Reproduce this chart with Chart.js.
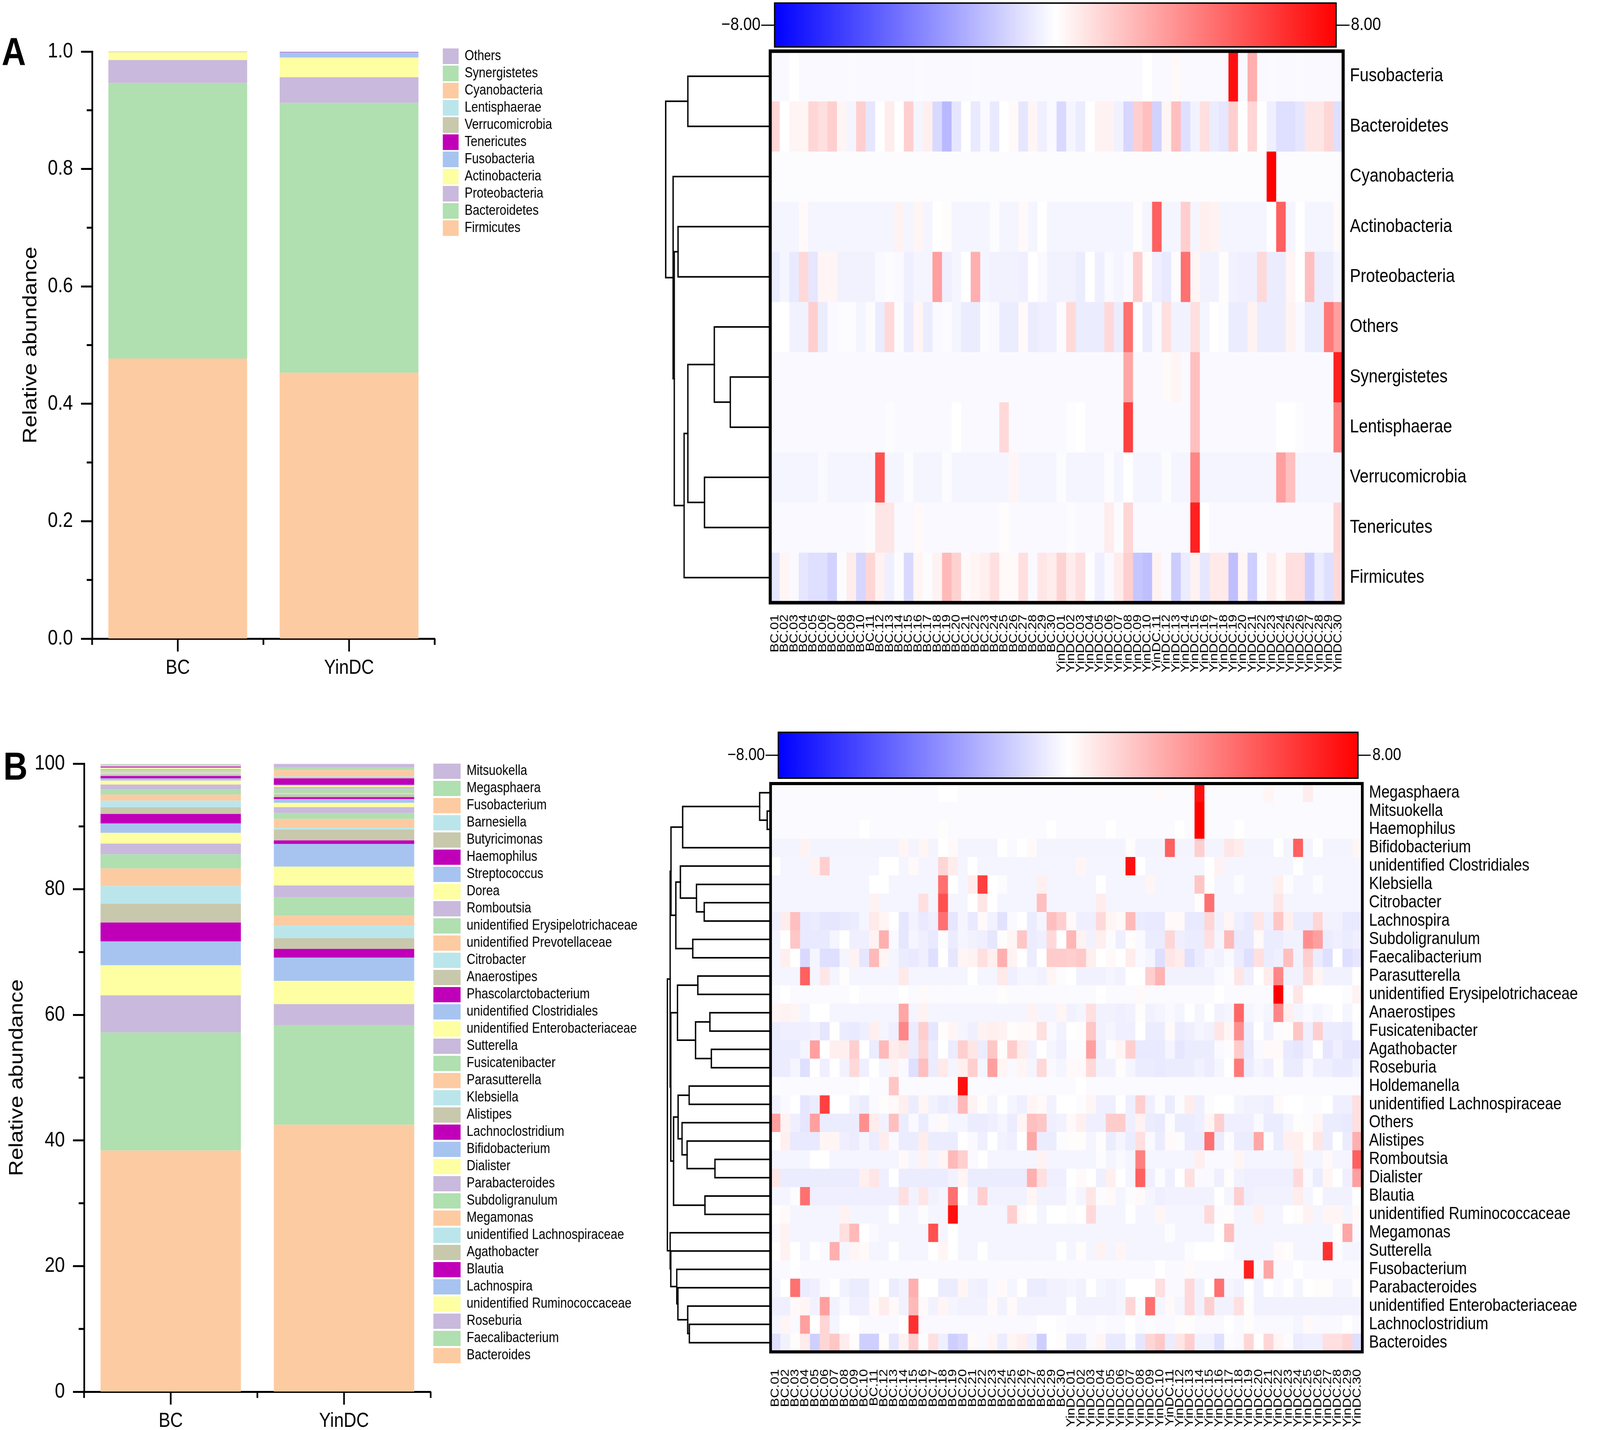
<!DOCTYPE html>
<html><head><meta charset="utf-8">
<script src="https://cdn.jsdelivr.net/npm/chart.js"></script>
<style>
html,body{margin:0;padding:0;background:#fff;overflow:hidden;}
#wrap{position:relative;overflow:hidden;width:4759px;height:3661px;background:#fff;}
#page{position:absolute;left:0;top:0;width:4759px;height:3661px;overflow:hidden;background:#fff;transform-origin:0 0;}
canvas{position:absolute;}
.letter{position:absolute;font-family:'Liberation Sans',Arial,sans-serif;font-weight:bold;font-size:100px;line-height:100px;color:#000;}
</style></head><body><div id="wrap"><div id="page">
<div class="letter" style="left:5px;top:82px">A</div>
<div class="letter" style="left:10px;top:1911px">B</div>
<canvas id="barA" width="1900" height="1800" style="left:0;top:0"></canvas>
<canvas id="barB" width="1900" height="1881" style="left:0;top:1780px"></canvas>
<canvas id="heatA" width="2559" height="1780" style="left:2200px;top:0"></canvas>
<canvas id="heatB" width="2559" height="1881" style="left:2200px;top:1780px"></canvas>
<canvas id="cbA" width="2300" height="196" style="left:2000px;top:-34px"></canvas>
<canvas id="cbB" width="2300" height="201" style="left:2000px;top:1833px"></canvas>
<canvas id="dendA" width="341" height="1432" style="left:1960px;top:121px"></canvas>
<canvas id="dendB" width="337" height="1475" style="left:1965px;top:1996px"></canvas>
</div></div>
<script>
// Fit the 4759x3661 design exactly onto the viewport the browser actually gives us
(function () {
  const sx = (window.innerWidth / 4759) || 1, sy = (window.innerHeight / 3661) || 1;
  if (Math.abs(sx - 1) > 0.001 || Math.abs(sy - 1) > 0.001) {
    const w = document.getElementById('wrap');
    w.style.width = (4759 * sx) + 'px'; w.style.height = (3661 * sy) + 'px';
    document.getElementById('page').style.transform = 'scale(' + sx + ',' + sy + ')';
  }
})();

// ===================== DATA =====================
const groups = ['BC', 'YinDC'];

// Panel A stacked bars (bottom -> top)
const phylumNames = ['Firmicutes','Bacteroidetes','Proteobacteria','Actinobacteria','Fusobacteria','Tenericutes','Verrucomicrobia','Lentisphaerae','Cyanobacteria','Synergistetes','Others'];
const phylumBC    = [0.477,0.4695,0.039,0.0135,0.0003,0.0002,0.0003,0.0001,0.0001,0.0001,0.0004];
const phylumYinDC = [0.453,0.4595,0.0438,0.0334,0.0089,0.0005,0.0002,0.0001,0.0001,0.0001,0.0008];

// Panel B stacked bars (bottom -> top)
const genusNames = ['Bacteroides','Faecalibacterium','Roseburia','unidentified Ruminococcaceae','Lachnospira','Blautia','Agathobacter','unidentified Lachnospiraceae','Megamonas','Subdoligranulum','Parabacteroides','Dialister','Bifidobacterium','Lachnoclostridium','Alistipes','Klebsiella','Parasutterella','Fusicatenibacter','Sutterella','unidentified Enterobacteriaceae','unidentified Clostridiales','Phascolarctobacterium','Anaerostipes','Citrobacter','unidentified Prevotellaceae','unidentified Erysipelotrichaceae','Romboutsia','Dorea','Streptococcus','Haemophilus','Butyricimonas','Barnesiella','Fusobacterium','Megasphaera','Mitsuokella'];
const genusBC    = [38.4,18.8,5.9,4.8,3.8,3.0,3.0,2.8,2.8,2.25,1.72,1.72,1.49,1.51,1.08,1.03,0.97,0.89,0.72,0.62,0.36,0.37,0.27,0.29,0.27,0.14,0.13,0.15,0.12,0.13,0.05,0.05,0.10,0.14,0.06];
const genusYinDC = [42.5,15.9,3.3,3.7,3.7,1.4,1.7,2.0,1.6,2.9,1.9,3.0,3.6,0.58,1.72,0.3,1.4,0.93,0.94,0.68,0.6,0.31,0.47,0.1,0.11,0.66,0.27,0.21,0.16,1.02,0.16,0.15,1.0,0.38,0.6];

// Heatmap columns
const sampleLabels = ['BC.01','BC.02','BC.03','BC.04','BC.05','BC.06','BC.07','BC.08','BC.09','BC.10','BC.11','BC.12','BC.13','BC.14','BC.15','BC.16','BC.17','BC.18','BC.19','BC.20','BC.21','BC.22','BC.23','BC.24','BC.25','BC.26','BC.27','BC.28','BC.29','BC.30',
 'YinDC.01','YinDC.02','YinDC.03','YinDC.04','YinDC.05','YinDC.06','YinDC.07','YinDC.08','YinDC.09','YinDC.10','YinDC.11','YinDC.12','YinDC.13','YinDC.14','YinDC.15','YinDC.16','YinDC.17','YinDC.18','YinDC.19','YinDC.20','YinDC.21','YinDC.22','YinDC.23','YinDC.24','YinDC.25','YinDC.26','YinDC.27','YinDC.28','YinDC.29','YinDC.30'];

// Colour-bar range and tick labels
const cbMin = -8, cbMax = 8;
const cbTickLabels = ['\u22128.00', '8.00'];

// Heatmap A rows (top -> bottom)
const heatRowsA = ['Fusobacteria','Bacteroidetes','Cyanobacteria','Actinobacteria','Proteobacteria','Others','Synergistetes','Lentisphaerae','Verrucomicrobia','Tenericutes','Firmicutes'];
const heatA = [
 [-0.2,-0.2,0,-0.2,-0.2,-0.2,-0.2,-0.2,-0.15,-0.2, -0.2,-0.2,-0.2,-0.2,-0.2,-0.15,-0.2,-0.2,-0.2,-0.2, -0.2,-0.15,-0.2,-0.2,-0.2,-0.2,-0.2,-0.2,-0.2,-0.2, -0.2,-0.2,-0.2,-0.2,-0.2,-0.2,-0.2,-0.2,-0.2,0, -0.2,-0.2,0.2,-0.2,-0.2,-0.2,-0.2,-0.2,7.5,-0.2, 2.5,-0.2,-0.15,-0.2,-0.2,-0.15,-0.2,-0.2,-0.2,-0.2],
 [1.3,0,0.3,0.3,1.3,1.0,1.5,0.3,-0.3,1.5, -0.8,0,0.6,0,1.5,-0.3,0.5,-1.2,-2.2,-0.8, 0,-0.7,-0.2,-0.7,0,0.2,-0.8,0.3,-0.5,-0.2, -1.2,-0.3,-0.6,0,0.4,0.4,-0.4,-1.3,1.5,2.0, -1.4,0.3,2.0,-1.0,-0.4,1.0,-0.6,-0.8,1.5,0, 1.3,0,-0.5,-1.0,-1.0,-0.8,0.8,0.8,1.3,-1.0],
 [-0.1,-0.1,-0.1,-0.1,-0.1,-0.1,-0.1,-0.1,-0.1,-0.1, -0.1,-0.1,-0.1,-0.1,-0.1,-0.1,-0.1,-0.1,-0.1,-0.1, -0.1,-0.1,-0.1,-0.1,-0.1,-0.1,-0.1,-0.1,-0.1,-0.1, -0.1,-0.1,-0.1,-0.1,-0.1,-0.1,-0.1,-0.1,-0.1,-0.1, -0.1,-0.1,-0.1,-0.1,-0.1,-0.1,-0.1,-0.1,-0.1,-0.1, -0.1,-0.1,8,-0.1,-0.1,-0.1,-0.1,-0.1,-0.1,-0.1],
 [-0.3,-0.3,-0.3,0.2,-0.3,-0.3,-0.3,-0.3,-0.3,-0.3, -0.3,-0.3,-0.3,0.4,-0.3,0.3,-0.3,0,0.1,-0.3, -0.3,-0.3,-0.3,-0.1,-0.3,-0.3,0.2,-0.3,0,-0.3, -0.3,-0.3,-0.3,-0.3,-0.3,-0.3,-0.3,-0.3,0.1,-0.3, 5,-0.3,-0.3,1.5,-0.3,0.5,0.4,-0.3,-0.3,-0.3, -0.3,-0.3,0,5,-0.3,0,-0.3,-0.3,-0.3,0.2],
 [-0.6,-0.3,-0.7,1.2,-0.8,0.3,0.3,-0.4,-0.4,-0.4, -0.4,-0.2,-0.1,-0.2,-0.5,-0.3,-0.3,3.0,-0.5,-0.3, 0,2.5,-0.3,-0.4,-0.4,-0.4,-0.5,0,-0.2,-0.4, -0.4,-0.4,-0.6,0,-0.5,-0.2,-0.3,-0.2,1.5,0.1, -0.5,-0.7,-0.1,4.5,0.3,-0.4,-0.4,0.1,-0.4,-0.5, -0.5,1.2,-0.6,-0.6,0.3,0,2.0,-0.6,-0.6,-0.3],
 [0,0,-0.4,-0.4,1.5,-0.6,-0.2,-0.1,-0.1,-0.3, -0.1,-0.6,1.2,-0.1,-0.6,0.3,-0.6,-0.2,-0.1,-0.3, -0.6,-0.6,-0.1,-0.2,-0.6,-0.6,0.2,-0.6,-0.5,-0.5, -0.1,1.2,-0.6,-0.6,-0.6,1.2,-0.6,4.5,0,-0.6, -0.2,1.0,-0.4,-0.4,1.0,-0.3,0,-0.1,-0.6,-0.6, 0.4,-0.6,-0.6,-0.6,0.4,-0.2,-0.6,-0.6,4.2,3.0],
 [-0.2,-0.2,-0.2,-0.2,-0.2,-0.2,-0.2,-0.2,-0.2,-0.2, -0.2,-0.2,-0.2,-0.2,-0.2,-0.2,-0.2,-0.2,-0.2,-0.2, -0.2,-0.2,-0.2,-0.2,-0.2,-0.2,-0.2,-0.2,-0.2,-0.2, -0.2,-0.2,-0.2,-0.2,-0.2,-0.2,-0.2,2.8,-0.2,-0.2, -0.2,0.15,0.3,-0.2,2.0,-0.2,-0.2,-0.2,-0.2,-0.2, -0.2,-0.2,-0.2,-0.2,-0.2,-0.2,-0.2,-0.2,-0.2,7],
 [-0.2,-0.2,-0.2,-0.2,-0.2,-0.2,-0.2,-0.2,-0.2,-0.2, -0.2,-0.2,-0.1,-0.2,-0.2,-0.2,-0.2,-0.2,-0.2,0, -0.2,-0.2,-0.2,-0.2,1.2,-0.2,-0.2,-0.2,-0.2,-0.2, -0.2,-0.05,0,-0.2,-0.2,-0.2,-0.2,6,-0.2,-0.2, -0.2,-0.2,-0.2,-0.2,2.0,-0.2,-0.2,-0.2,-0.2,-0.2, -0.2,-0.2,-0.2,0,0,-0.1,-0.2,-0.2,-0.2,4],
 [-0.3,-0.3,-0.3,-0.3,-0.3,-0.2,-0.3,-0.3,-0.3,-0.3, -0.3,5.5,-0.3,-0.3,-0.1,-0.3,-0.3,-0.3,-0.1,-0.3, -0.3,-0.3,-0.3,-0.3,-0.3,0.3,-0.3,-0.3,-0.3,-0.3, -0.1,-0.3,-0.3,-0.3,-0.3,-0.1,-0.3,0,-0.3,-0.3, -0.3,-0.1,-0.3,-0.3,3.8,-0.3,-0.3,-0.3,-0.3,-0.3, -0.3,-0.3,-0.3,3.0,2.0,-0.3,-0.3,-0.3,-0.3,-0.3],
 [-0.2,-0.2,-0.2,-0.2,-0.2,-0.2,-0.2,-0.2,-0.2,-0.2, -0.1,0.8,0.8,-0.2,-0.2,0.2,-0.2,-0.2,-0.2,-0.2, -0.2,-0.2,-0.2,-0.2,0.1,-0.2,-0.2,-0.2,-0.2,-0.2, -0.2,-0.1,-0.2,-0.2,-0.2,0.6,-0.1,1.3,-0.2,-0.2, -0.2,-0.2,-0.2,-0.2,7,0,-0.2,-0.2,-0.2,-0.2, -0.2,-0.2,-0.2,-0.2,-0.2,-0.2,-0.2,-0.2,-0.2,1.3],
 [-0.8,0.3,-0.2,-0.8,-1.0,-1.0,-1.4,-0.1,0.6,-1.3, 1.3,0.4,-0.5,-0.1,-1.2,0.3,-0.1,0.4,2.2,1.4, 0.2,0.3,0.5,1.0,0.2,0.2,1.0,-0.2,0.8,0.6, 1.4,0.6,1.0,-0.05,-0.5,-0.2,0.6,1.5,-1.8,-2.0, 0.4,-0.2,-1.6,-0.6,0.4,-0.8,0.7,0.7,-2.0,0.3, -1.5,-0.1,0.6,0.2,1.0,1.0,-1.5,-0.6,-1.0,1.2]
];

// Heatmap B rows (top -> bottom)
const heatRowsB = ['Megasphaera','Mitsuokella','Haemophilus','Bifidobacterium','unidentified Clostridiales','Klebsiella','Citrobacter','Lachnospira','Subdoligranulum','Faecalibacterium','Parasutterella','unidentified Erysipelotrichaceae','Anaerostipes','Fusicatenibacter','Agathobacter','Roseburia','Holdemanella','unidentified Lachnospiraceae','Others','Alistipes','Romboutsia','Dialister','Blautia','unidentified Ruminococcaceae','Megamonas','Sutterella','Fusobacterium','Parabacteroides','unidentified Enterobacteriaceae','Lachnoclostridium','Bacteroides'];
const heatB = [
 [-0.15,-0.15,-0.15,-0.15,-0.15,-0.15,-0.15,-0.15,-0.15,-0.15, -0.15,-0.15,-0.15,-0.15,-0.15,-0.15,-0.15,0,0,-0.15, -0.15,-0.15,-0.15,-0.15,-0.15,-0.15,-0.15,-0.15,-0.15,-0.15, -0.15,-0.15,-0.15,-0.15,-0.15,-0.15,-0.15,-0.15,-0.15,0.2, -0.15,-0.15,-0.15,7.5,-0.15,-0.15,-0.15,-0.15,-0.15,-0.15, 0.3,-0.15,-0.15,-0.15,0.6,-0.15,-0.15,-0.15,-0.15,-0.15],
 [-0.15,-0.15,-0.15,-0.15,-0.15,-0.15,-0.15,-0.15,-0.15,-0.15, -0.15,-0.15,-0.15,-0.15,-0.15,-0.15,-0.15,-0.15,-0.15,-0.15, -0.15,-0.15,-0.15,-0.15,-0.15,-0.15,-0.15,-0.15,-0.15,-0.15, -0.15,-0.15,-0.15,-0.15,-0.15,-0.15,-0.15,-0.15,-0.15,-0.15, -0.15,-0.15,-0.15,8,-0.15,-0.15,-0.15,-0.15,-0.15,-0.15, -0.15,-0.15,-0.15,-0.15,-0.15,-0.15,-0.15,-0.15,-0.15,-0.15],
 [-0.15,-0.15,-0.15,-0.15,-0.15,-0.15,-0.15,-0.15,-0.15,0, -0.15,-0.15,-0.15,-0.15,-0.15,-0.15,-0.15,0.1,-0.15,-0.15, -0.15,-0.15,-0.15,-0.15,-0.15,-0.15,-0.15,-0.15,0,-0.15, -0.15,-0.15,-0.15,-0.15,0,-0.15,-0.15,-0.15,-0.15,-0.15, -0.15,0,-0.15,8,-0.15,-0.15,-0.15,0,-0.15,-0.15, -0.15,-0.15,-0.15,-0.15,-0.15,-0.15,-0.15,-0.15,-0.15,-0.15],
 [-0.35,-0.35,-0.35,0.4,-0.35,-0.35,-0.35,-0.35,-0.35,-0.35, -0.35,-0.35,-0.35,0.3,-0.35,0.3,-0.35,0,0.2,-0.35, -0.35,-0.35,-0.35,0,-0.2,0,0.2,-0.35,-0.35,-0.35, -0.35,-0.35,-0.35,-0.35,-0.35,-0.35,0.1,-0.35,-0.35,-0.35, 5,-0.35,-0.35,1.5,-0.35,-0.35,0.8,0.6,-0.35,-0.35, -0.35,0,-0.35,5,-0.35,0,-0.35,-0.35,-0.35,0.3],
 [0,-0.3,-0.3,-0.3,0.4,1.5,-0.3,-0.3,-0.3,-0.3, -0.3,0,0,-0.3,0.2,-0.3,-0.3,1.3,0.6,-0.3, 0,-0.3,-0.3,-0.3,-0.3,-0.3,-0.3,-0.3,-0.3,-0.3, -0.3,0.3,-0.3,-0.3,-0.3,-0.3,7.5,0,-0.3,-0.3, -0.3,-0.3,-0.3,-0.3,0,0.4,-0.3,-0.3,-0.3,-0.3, -0.3,-0.3,-0.3,0,-0.3,-0.3,-0.3,-0.3,-0.3,-0.3],
 [-0.3,-0.3,-0.3,-0.3,-0.3,-0.3,-0.3,-0.3,-0.3,-0.3, 0,0,-0.3,-0.3,-0.3,-0.3,-0.3,4.5,0,-0.3, 0.6,6,0,-0.1,-0.3,-0.3,-0.3,0.5,-0.3,-0.3, -0.3,-0.3,-0.3,0,-0.3,-0.3,-0.3,-0.3,0.3,-0.3, -0.3,-0.3,-0.3,1.8,0,-0.3,-0.3,-0.1,-0.3,-0.3, -0.3,0.5,-0.1,-0.3,-0.3,-0.1,-0.3,-0.3,-0.3,-0.3],
 [-0.3,-0.3,-0.3,-0.3,-0.3,-0.3,-0.3,-0.3,-0.3,-0.3, 0.4,-0.3,-0.3,-0.3,-0.3,1.0,-0.3,5.5,-0.3,-0.3, 0,0.8,0,-0.3,-0.3,-0.3,-0.3,2.0,-0.3,-0.3, -0.3,-0.3,-0.3,0.6,-0.3,-0.3,-0.3,-0.3,-0.3,-0.3, -0.3,-0.3,-0.3,0.1,4.5,-0.3,-0.3,-0.3,-0.3,-0.3, -0.3,0.8,-0.3,-0.3,-0.3,-0.3,-0.3,-0.3,-0.3,-0.3],
 [-0.5,0.6,2.0,-0.7,-0.6,-0.8,-0.8,-0.7,-0.6,-0.3, 0.7,0.3,0,-0.8,-0.4,-0.7,-0.5,4.5,-0.8,-0.3, -0.7,0.2,-0.4,-0.9,-0.2,0,-0.6,-0.3,2.0,1.5, 0.2,-0.5,-0.5,1.2,0.3,0.2,2.2,-0.6,-0.7,-0.7, 0.2,0.2,-0.7,-0.7,1.3,-0.4,0.3,-0.5,-0.7,0.8, -0.5,1.8,0.5,-0.6,-0.6,1.3,-0.4,-0.4,-0.7,-0.7],
 [-0.3,0,1.8,-0.7,-0.7,-0.7,-0.3,0,-0.5,-0.5, 0.4,2.5,-0.2,-0.8,-0.3,-0.5,-0.7,-0.1,-0.6,-0.3, -0.4,-0.5,-0.8,0.1,0.3,1.8,-0.6,-0.5,1.2,0, 2.3,0.4,-0.4,0.5,-0.1,-0.5,0.1,-0.2,-0.6,-0.6, 1.3,-0.5,-0.6,-0.6,1.0,-0.3,2.2,-0.7,-0.7,0.2, -0.6,-0.6,-0.4,-0.4,3.5,3.0,-0.6,-0.5,-0.6,-0.5],
 [-0.3,0.5,0,-1.2,-0.3,-1.0,-1.0,-0.3,0.4,-0.8, 2.2,0.3,-0.3,-0.6,-0.7,-0.5,-1.0,0,-0.8,0.3, 0.4,1.0,0.5,2.5,0.4,0,-0.6,0,1.6,1.6, 1.5,1.7,0.5,0,0.2,0,0.6,-0.2,-0.3,-1.0, 0.8,0.6,-1.0,-0.6,-0.3,-0.4,-0.2,-0.6,-1.0,1.0, -0.6,-0.5,2.0,-0.4,1.5,-0.6,-1.0,0,-1.0,-0.8],
 [-0.3,-0.3,-0.3,5,-0.3,0.8,-0.3,0.1,-0.3,-0.3, -0.3,-0.3,-0.3,0.7,-0.3,-0.3,-0.3,-0.3,-0.3,-0.3, 0,-0.3,-0.3,0.7,-0.5,-0.3,-0.3,-0.4,0.3,-0.1, 0,-0.4,-0.4,-0.4,-0.3,-0.4,0,0,1.5,2.4, -0.4,-0.4,-0.4,-0.4,-0.4,-0.2,-0.1,0.8,-0.5,0, 0.6,3.8,-0.4,-0.4,1.1,0.3,-0.4,-0.4,-0.4,0],
 [-0.15,0,-0.15,-0.15,-0.15,-0.15,-0.15,-0.15,0,-0.15, -0.15,-0.15,-0.15,0,-0.15,0.2,-0.15,-0.15,-0.15,-0.15, -0.15,-0.15,-0.15,0.1,-0.15,-0.15,-0.15,-0.15,-0.15,-0.15, -0.15,-0.15,-0.15,0,-0.15,-0.15,-0.15,0.2,-0.15,-0.15, -0.15,-0.15,-0.15,-0.15,-0.15,0,-0.15,-0.15,-0.15,-0.15, -0.15,8,-0.1,0.8,0,0,0,0,-0.1,0.4],
 [0.3,0.4,0.3,-0.3,0,0,-0.3,-0.3,-0.3,-0.3, -0.3,-0.3,-0.3,2.8,-0.3,0.4,-0.3,-0.3,-0.3,-0.3, -0.3,-0.3,-0.3,-0.3,-0.3,-0.3,0.4,-0.3,-0.3,0.3, -0.4,-0.3,1.0,-0.4,-0.4,-0.5,-0.4,0.1,-0.4,-0.3, -0.2,-0.3,0,-0.3,0,-0.4,-0.3,4.8,-0.3,-0.2, -0.3,3.8,0.5,-0.3,-0.2,-0.3,-0.2,0,-0.3,0],
 [-0.6,-0.5,-0.5,-0.5,-0.4,-0.8,0,-0.6,-0.7,-0.5, 0.5,-0.3,-0.5,3.8,-0.6,1.5,-0.8,0.1,0.3,-0.3, -0.5,0.4,0.5,0.4,0.1,0.2,0.2,1.0,-0.2,-0.4, 0,0.1,1.8,-0.4,-0.3,-0.5,-0.5,0,-0.6,-0.6, 0.2,-0.6,-0.5,-0.3,-0.4,0.8,0.3,3.5,-0.6,0, -0.4,-0.1,0.1,1.8,-0.5,1.5,-0.6,-0.6,-0.7,-0.1],
 [-0.6,-0.6,-0.6,-0.3,3.0,0,0.5,0.5,1.5,0, -0.6,2.2,0.6,0.8,-0.6,1.3,-0.6,0,-0.6,1.5, 0.8,-0.6,1.8,0.1,1.6,0.6,-0.4,0,-0.3,-0.5, -0.1,-0.1,3.0,-0.5,-0.1,0.3,1.5,-0.7,-0.7,-0.7, -0.3,-0.8,-0.6,-0.6,-0.6,-0.2,-0.1,1.6,-0.7,-0.2, 0.2,0.2,-0.7,-0.8,-0.5,0,-0.8,-0.5,-0.8,-0.8],
 [-0.6,-0.6,-0.3,-1.0,0,-0.5,0,-0.4,1.2,-0.5, 0,-0.3,0.4,-0.2,-1.0,2.0,-0.6,0.7,-0.3,0.5, 1.5,-0.3,3.0,0.3,-0.2,0.3,-0.3,1.2,-0.2,-0.3, 0.2,0.2,1.2,-0.4,-0.4,0.1,-0.3,-0.6,-0.6,-0.7, -0.6,-0.6,-0.6,-0.4,-0.6,-0.3,0,4.2,-0.6,-0.3, -0.5,0.1,-0.6,-0.6,-0.2,-0.5,-0.5,-0.7,-0.7,-0.4],
 [-0.1,-0.15,-0.15,-0.15,-0.15,-0.15,-0.15,-0.15,-0.15,0, -0.15,-0.15,1.8,-0.15,-0.15,-0.15,-0.15,-0.15,-0.15,7.5, -0.15,-0.15,-0.15,-0.15,-0.15,-0.15,-0.15,-0.15,-0.15,-0.15, -0.15,0,-0.15,-0.15,-0.15,-0.15,-0.15,-0.15,-0.15,-0.15, -0.15,-0.15,-0.15,-0.15,-0.15,-0.15,-0.15,-0.15,-0.15,-0.15, -0.15,-0.15,-0.15,-0.15,-0.15,-0.15,-0.15,-0.15,-0.15,-0.15],
 [-0.4,-0.2,0,-0.8,-0.6,6,0,0,-0.4,-0.6, -0.2,0.1,0.2,0.5,-0.6,0.3,-0.4,-0.6,-0.5,2.2, 0.4,0.1,-0.3,0,-0.3,-0.5,0.3,0.2,-0.4,0, 0,-0.1,0.3,-0.5,-0.5,0,-0.5,1.5,-0.5,-0.1, -0.6,-0.1,0.6,-0.5,-0.1,0,0,-0.3,-0.4,-0.4, -0.5,0.2,0,0,-0.1,-0.1,0,-0.5,-0.5,1.0],
 [3.0,0.4,-0.5,-0.8,3.0,-0.6,-0.6,-0.6,-0.6,3.5, 0.6,-0.4,2.0,-0.6,-0.2,-0.6,-0.2,0.2,-0.3,-0.3, -0.6,-0.6,-0.5,-0.3,-0.6,0.3,2.0,1.8,-0.5,-0.4, 0.2,0.5,-0.5,-0.5,1.6,1.6,-0.5,0.4,-0.6,-0.7, -0.1,-0.6,-0.6,-0.5,0.3,1.5,-0.5,-0.5,-0.5,-0.2, -0.6,-0.6,-0.3,0.1,-0.1,0.3,-0.6,-0.6,-0.7,1.0],
 [0,0.5,-0.7,-0.7,-0.7,0.3,0.3,-0.5,-0.6,-0.3, -0.6,0.6,-0.2,-0.6,-0.6,0.6,-0.6,-0.6,-0.6,0, -0.2,-0.5,0,-0.4,-0.5,0,2.8,-0.6,-0.6,-0.1, 0.1,0.1,-0.3,0.1,-0.6,-0.3,-0.6,1.0,-0.2,-0.6, 0.2,-0.1,-0.6,-0.6,4.5,-0.6,-0.1,-0.6,-0.6,2.8, -0.1,-0.6,0.5,0.5,0.1,0.8,-0.6,0,-0.6,2.5],
 [-0.3,-0.3,-0.3,-0.3,0,0,-0.3,-0.3,-0.3,-0.3, -0.3,-0.3,-0.3,0.2,-0.3,0.4,-0.3,0.3,2.2,1.5, -0.2,0,-0.3,-0.3,-0.3,-0.3,-0.3,0.4,-0.3,-0.3, -0.3,-0.3,-0.3,-0.1,-0.3,-0.2,-0.3,4.0,-0.3,-0.3, -0.3,-0.3,-0.3,0.5,-0.2,-0.2,-0.2,0.3,-0.3,-0.3, -0.3,-0.3,-0.3,0.5,-0.3,-0.3,0.2,-0.3,-0.3,5],
 [0.8,-0.6,-0.6,-0.6,-0.6,-0.6,-0.6,-0.6,-0.6,0.5, 0.8,-0.5,0,-0.6,-0.6,-0.6,-0.6,-0.6,-0.4,0.3, -0.6,-0.6,-0.6,-0.6,-0.6,-0.6,2.5,1.0,-0.5,-0.5, 0,0.2,0,-0.5,0.5,0,-0.3,5,-0.5,-0.1, -0.5,0,1.0,-0.2,-0.2,-0.5,0.1,-0.4,-0.5,-0.5, -0.5,-0.5,-0.5,1.2,-0.2,-0.6,0.3,0,-0.5,3.0],
 [-0.3,-0.3,-0.1,4.5,-0.5,-0.5,-0.5,-0.5,-0.5,-0.5, -0.5,-0.5,-0.5,1.0,-0.4,0.8,-0.4,-0.3,4.5,0, -0.4,1.5,-0.4,-0.4,-0.4,-0.4,0.3,-0.4,-0.4,-0.4, -0.1,-0.3,0.8,-0.1,0.2,-0.3,-0.1,0.2,-0.3,-0.5, -0.4,-0.4,-0.4,-0.4,-0.4,0,-0.3,1.5,-0.5,-0.4, -0.4,-0.4,-0.4,0.6,-0.3,0,-0.4,-0.4,-0.4,0],
 [0,0.2,-0.3,-0.3,-0.3,-0.3,-0.3,0.4,-0.3,-0.3, -0.3,-0.3,0,-0.3,-0.3,-0.1,-0.3,-0.3,7.5,-0.3, -0.3,-0.3,-0.3,-0.3,1.5,0.2,0,-0.3,0,0, -0.1,0,1.2,-0.3,-0.3,-0.3,0,-0.3,-0.3,0.3, -0.3,-0.3,-0.3,-0.3,1.2,-0.1,0.1,-0.3,-0.3,0.5, -0.3,-0.3,0,0.1,0.4,-0.3,0.3,0.3,-0.3,0.2],
 [-0.2,0.4,-0.3,-0.3,-0.3,-0.3,-0.3,1.0,2.2,0, -0.2,-0.3,-0.3,-0.3,-0.3,-0.3,5.5,-0.3,0,-0.3, -0.3,-0.3,-0.3,-0.3,-0.3,-0.3,-0.3,-0.3,-0.3,-0.3, -0.3,-0.3,-0.3,-0.3,-0.3,-0.3,-0.3,-0.3,-0.3,-0.3, -0.1,-0.3,-0.3,-0.3,-0.3,0,2.0,-0.3,-0.3,-0.3, -0.3,-0.3,-0.3,-0.3,-0.3,-0.3,-0.3,0.1,2.8,-0.2],
 [0,0.4,0,-0.3,0,-0.2,2.5,-0.3,0.3,0.2, -0.3,-0.3,0,-0.3,-0.3,-0.3,0,0.3,0,-0.3, -0.3,0,-0.3,-0.3,-0.3,-0.3,-0.3,-0.3,-0.3,0, -0.3,0.1,-0.3,0.4,-0.3,0.3,-0.3,-0.3,-0.3,-0.3, -0.3,-0.3,-0.1,0,0,0,-0.1,-0.3,-0.3,-0.3, -0.3,0.2,0.1,-0.3,-0.3,-0.3,6.5,-0.1,-0.3,-0.3],
 [-0.2,-0.2,0,-0.2,-0.2,-0.2,-0.2,-0.2,-0.2,-0.2, -0.2,-0.2,-0.2,-0.2,-0.2,-0.2,-0.2,-0.2,-0.2,-0.2, -0.2,-0.2,-0.2,-0.2,-0.2,-0.2,-0.2,-0.2,-0.2,-0.2, -0.2,-0.2,-0.2,-0.2,-0.2,-0.2,-0.2,-0.2,-0.2,0, -0.2,-0.2,0.2,-0.2,-0.2,-0.2,-0.2,-0.2,7,-0.2, 2.8,-0.2,-0.2,0,-0.2,-0.2,-0.2,-0.2,-0.2,-0.2],
 [-0.3,0,4.5,-0.6,-0.5,-0.2,0,-0.4,-0.6,-0.6, -0.2,0,-0.6,-0.4,2.5,0,0,-0.6,-0.6,0.3, -0.4,-0.5,-0.2,0.2,-0.3,0,-0.6,-0.6,-0.4,-0.4, -0.3,-0.4,0,-0.3,-0.4,-0.3,0,0,0,1.0, -0.2,-0.2,1.2,-0.4,0,4.5,-0.3,-0.4,0,-0.4, 0,-0.2,0,-0.3,0,0.1,0.1,-0.3,-0.3,0.1],
 [-0.5,-0.5,0.2,0.3,-0.4,3.0,-0.4,-0.2,-0.5,-0.5, 0.2,0.6,0.2,-0.4,2.2,0.2,-0.4,0.3,-0.3,-0.4, -0.4,-0.4,0.2,-0.4,0.2,-0.4,-0.4,-0.4,-0.4,-0.4, 0,-0.4,-0.4,-0.4,-0.4,-0.3,1.3,-0.1,4.5,-0.3, 0.2,-0.3,1.2,-0.4,1.5,-0.4,-0.4,1.0,0.1,-0.4, -0.4,-0.4,-0.4,-0.4,-0.4,-0.4,-0.4,-0.4,-0.4,-0.4],
 [-0.3,0.3,-0.2,3.0,0,1.3,-0.3,0,0,-0.2, -0.2,-0.2,-0.2,0,6.5,-0.2,-0.2,-0.2,-0.2,-0.2, -0.2,-0.2,-0.2,-0.2,-0.2,-0.2,-0.2,0,0,-0.1, -0.2,-0.2,-0.2,-0.1,-0.2,-0.2,0,-0.2,-0.1,-0.2, -0.2,0.1,0.1,-0.2,-0.2,-0.2,0,-0.2,0.1,-0.2, -0.2,-0.2,-0.2,-0.3,0.2,-0.2,-0.2,-0.2,0,-0.2],
 [-1.0,-0.4,0.1,0.6,-1.5,1.3,1.8,0.6,0.1,-1.5, -1.5,0.1,-0.8,0.4,1.5,-0.1,1.0,-0.5,-1.5,-1.3, 0.2,-0.2,0.3,-0.6,0.3,0.5,-0.5,-1.5,0,0.1, -0.7,-0.7,-0.2,0.3,-0.7,-0.7,-0.1,-0.8,1.3,1.7, -0.6,0.8,1.5,-0.4,-0.4,-1.0,-0.1,-0.2,1.3,0, 1.3,0.3,-0.1,-0.6,-0.5,-0.5,1.0,1.0,1.3,-1.0]
];

// Dendrograms: [childA, childB, height]; ids < n are rows, ids >= n are earlier merges
const dendroA = [[0,1,78.8],[3,4,88.2],[6,7,38.2],[5,13,53.5],[8,9,62.9],[14,15,78.8],[16,10,82.4],[12,17,91.8],[2,18,92.9],[11,19,100]];
const dendroB = [[1,2,3.3],[0,31,10.6],[32,3,85.2],[6,7,64.3],[5,34,71.8],[4,35,87.4],[8,9,75.4],[36,37,91.8],[33,38,96.5],
 [10,11,70.5],[12,13,58.8],[14,15,57.4],[41,42,72.7],[40,43,90.2],[16,17,78.9],[20,21,53.9],[19,46,80.9],[18,47,85.8],[45,48,89.6],
 [22,23,63.6],[49,50,94.0],[44,51,96.7],[39,52,97.3],[29,30,78.7],[28,54,80.3],[27,55,89.8],[26,56,90.9],[25,57,96.7],[24,58,97.3],[53,59,100]];

// ===================== STYLE / HELPERS =====================
const FONT = "'Liberation Sans', Arial, Helvetica, sans-serif";
Chart.defaults.font.family = FONT;
Chart.defaults.color = '#000';
Chart.defaults.animation = false;
Chart.defaults.events = [];
Chart.defaults.plugins.tooltip.enabled = false;
Chart.defaults.plugins.legend.display = false;

const palette = ['#fdcba1','#b0dfb0','#c9b9dc','#fefea2','#a7c4f1','#c000b8','#c8c8ac','#bae6eb'];

function heatColor(v) {
  const t = Math.max(-1, Math.min(1, v / cbMax));
  if (t >= 0) { const c = Math.round(255 * (1 - t)); return 'rgb(255,' + c + ',' + c + ')'; }
  const c = Math.round(255 * (1 + t)); return 'rgb(' + c + ',' + c + ',255)';
}

const legendPos = {
  id: 'legendPos',
  afterLayout(chart, args, o) {
    const L = chart.legend; if (!L || !o || o.left === undefined) return;
    const h = L.height;
    L.left = o.left; L.right = o.right; L.top = o.top; L.bottom = o.top + h;
  }
};

const barTicks = {
  id: 'barTicks',
  afterDraw(chart, args, o) {
    if (!o || !o.minorStep) return;
    const c = chart.ctx, xs = chart.scales.x, ys = chart.scales.y, a = chart.chartArea;
    c.save(); c.strokeStyle = '#000'; c.lineWidth = o.width; c.lineCap = 'butt';
    c.beginPath();
    const nMinor = Math.round((ys.max - ys.min) / o.minorStep);
    for (let k = 1; k < nMinor; k += 2) {
      const y = ys.getPixelForValue(ys.min + k * o.minorStep);
      c.moveTo(a.left, y); c.lineTo(a.left - o.minorLen, y);
    }
    const n = chart.data.labels.length;
    for (let i = 0; i < n; i++) {
      const x = xs.getPixelForValue(i);
      c.moveTo(x, a.bottom); c.lineTo(x, a.bottom + o.majorLen);
    }
    for (let i = 0; i <= n; i++) {
      const x = xs.getPixelForValue(i - 0.5);
      c.moveTo(x, a.bottom); c.lineTo(x, a.bottom + o.minorLen);
    }
    c.stroke(); c.restore();
  }
};

const frame = {
  id: 'frame',
  afterDatasetsDraw(chart, args, o) {
    const a = chart.chartArea, c = chart.ctx;
    c.save(); c.strokeStyle = '#000'; c.lineWidth = (o && o.width) || 8;
    c.strokeRect(a.left, a.top, a.right - a.left, a.bottom - a.top);
    c.restore();
  }
};

function stackedBar(id, names, bc, yin, cfg) {
  return new Chart(document.getElementById(id), {
    type: 'bar',
    data: {
      labels: groups,
      datasets: names.map((nm, i) => ({
        label: nm, data: [bc[i], yin[i]],
        backgroundColor: palette[i % palette.length], borderColor: palette[i % palette.length], borderWidth: 0,
        barPercentage: 0.81, categoryPercentage: 1.0
      }))
    },
    options: {
      responsive: false, devicePixelRatio: 1, animation: false,
      layout: { padding: { top: cfg.padTop, right: cfg.padRight, left: 0, bottom: 0 } },
      plugins: {
        legend: {
          display: true, position: 'right', align: 'start', reverse: true, maxWidth: 300,
          labels: { boxWidth: cfg.boxW, boxHeight: cfg.boxH, padding: cfg.legPad, color: '#000', font: { size: 36, family: FONT } }
        },
        legendPos: cfg.legendPos,
        barTicks: { width: 5, minorStep: cfg.minorStep, minorLen: 16, majorLen: 33 }
      },
      scales: {
        x: {
          stacked: true,
          grid: { display: false, drawTicks: false },
          border: { display: true, width: 5, color: '#000' },
          ticks: { font: { size: 52 }, padding: 44, color: '#000' },
          afterFit: s => { s.height = cfg.xHeight; }
        },
        y: {
          stacked: true, min: 0, max: cfg.max,
          ticks: { stepSize: cfg.step, font: { size: 54 }, padding: 24, color: '#000', callback: cfg.fmt },
          grid: { display: true, drawOnChartArea: false, drawTicks: true, tickLength: 33, tickWidth: 5, tickColor: '#000' },
          border: { display: true, width: 5, color: '#000' },
          title: { display: true, text: 'Relative abundance', font: { size: 57 }, color: '#000', padding: { top: cfg.titlePad, bottom: 0 } },
          afterFit: s => { s.width = cfg.yWidth; }
        }
      }
    },
    plugins: [legendPos, barTicks]
  });
}

function heatmap(id, rows, rowLabels, cfg) {
  return new Chart(document.getElementById(id), {
    type: 'bar',
    data: {
      labels: sampleLabels,
      datasets: rows.map((vals, r) => ({
        label: rowLabels[r], data: vals.map(() => 1),
        backgroundColor: vals.map(heatColor), borderWidth: 0,
        barPercentage: 1, categoryPercentage: 1
      }))
    },
    options: {
      responsive: false, devicePixelRatio: 1, animation: false,
      layout: { padding: { left: cfg.padLeft, top: cfg.padTop, right: 0, bottom: 0 } },
      plugins: { frame: { width: cfg.frameW } },
      scales: {
        x: {
          stacked: true,
          grid: { display: false, drawTicks: false }, border: { display: false },
          ticks: { autoSkip: false, minRotation: 90, maxRotation: 90, font: { size: 35 }, padding: cfg.xPad, color: '#000' },
          afterFit: s => { s.height = cfg.xHeight; }
        },
        y: {
          type: 'linear', stacked: true, position: 'right', reverse: true, min: 0, max: rows.length,
          grid: { display: false, drawTicks: false }, border: { display: false },
          afterBuildTicks: s => { s.ticks = rowLabels.map((_, i) => ({ value: i + 0.5 })); },
          ticks: { autoSkip: false, font: { size: cfg.rowFont }, padding: 20, color: '#000', callback: (v, i) => rowLabels[i] },
          afterFit: s => { s.width = cfg.yWidth; }
        }
      }
    },
    plugins: [frame]
  });
}

function dendrogram(id, merges, n) {
  const ys = [], hs = [], ds = [];
  for (let i = 0; i < n; i++) { ys[i] = i; hs[i] = 0; }
  merges.forEach(([a, b, h], k) => {
    const id2 = n + k;
    ys[id2] = (ys[a] + ys[b]) / 2; hs[id2] = h;
    ds.push({
      data: [{ x: hs[a], y: ys[a] }, { x: h, y: ys[a] }, { x: h, y: ys[b] }, { x: hs[b], y: ys[b] }],
      borderColor: '#000', borderWidth: 4, pointRadius: 0, showLine: true, fill: false, clip: false,
      tension: 0, borderJoinStyle: 'miter', borderCapStyle: 'square'
    });
  });
  return new Chart(document.getElementById(id), {
    type: 'scatter',
    data: { datasets: ds },
    options: {
      responsive: false, devicePixelRatio: 1, animation: false,
      layout: { padding: { left: 20, right: 10, top: 10, bottom: 10 } },
      scales: {
        x: { type: 'linear', min: 0, max: 100, reverse: true, display: false },
        y: { type: 'linear', min: -0.5, max: n - 0.5, reverse: true, display: false }
      }
    }
  });
}

function colorbar(id, cfg) {
  const tickGrid = { display: true, offset: false, drawOnChartArea: false, drawTicks: true, tickLength: cfg.tickLen, tickWidth: 3, tickColor: '#000' };
  return new Chart(document.getElementById(id), {
    type: 'bar',
    data: {
      labels: [cbTickLabels[0]],
      datasets: [{
        data: [[cbMin, cbMax]],
        backgroundColor: (ctx) => {
          const ch = ctx.chart, xs = ch.scales.x;
          if (!ch.chartArea || !xs) return '#fff';
          const g = ch.ctx.createLinearGradient(xs.getPixelForValue(cbMin), 0, xs.getPixelForValue(cbMax), 0);
          g.addColorStop(0, heatColor(cbMin)); g.addColorStop(0.5, heatColor(0)); g.addColorStop(1, heatColor(cbMax));
          return g;
        },
        borderColor: '#000', borderWidth: 4, borderSkipped: false,
        barPercentage: 1, categoryPercentage: 1
      }]
    },
    options: {
      indexAxis: 'y', responsive: false, devicePixelRatio: 1, animation: false,
      layout: { padding: { top: 40, bottom: 40, left: 0, right: 0 } },
      scales: {
        x: { type: 'linear', min: cbMin, max: cbMax, display: false },
        y: { type: 'category', position: 'left', offset: true, grid: tickGrid, border: { display: false },
             ticks: { font: { size: cfg.font }, padding: cfg.padL, color: '#000' }, afterFit: s => { s.width = cfg.leftW; } },
        y2: { type: 'category', labels: [cbTickLabels[1]], position: 'right', offset: true, grid: tickGrid, border: { display: false },
             ticks: { font: { size: cfg.font }, padding: cfg.padR, color: '#000' }, afterFit: s => { s.width = cfg.rightW; } }
      }
    }
  });
}

function safe(fn) { try { fn(); } catch (e) { console.error(e); } }

// ===================== BUILD =====================
safe(() => stackedBar('barA', phylumNames, phylumBC, phylumYinDC, {
  padTop: 132, padRight: 307, xHeight: 165, yWidth: 274, max: 1, step: 0.2, minorStep: 0.1,
  fmt: v => Number(v).toFixed(1), titlePad: 58, boxW: 47, boxH: 40, legPad: 4,
  legendPos: { left: 1313, right: 1900, top: 120 }
}));
safe(() => stackedBar('barB', genusNames, genusBC, genusYinDC, {
  padTop: 175, padRight: 319, xHeight: 98, yWidth: 250, max: 100, step: 20, minorStep: 10,
  fmt: v => String(Math.round(v)), titlePad: 17, boxW: 81, boxH: 39, legPad: 5,
  legendPos: { left: 1284, right: 1900, top: 170 }
}));
safe(() => heatmap('heatA', heatA, heatRowsA, { padLeft: 91, padTop: 131, xHeight: 237, yWidth: 764, xPad: 30, rowFont: 48, frameW: 9 }));
safe(() => heatmap('heatB', heatB, heatRowsB, { padLeft: 92, padTop: 226, xHeight: 200, yWidth: 707, xPad: 44, rowFont: 44, frameW: 8 }));
safe(() => colorbar('cbA', { leftW: 302, rightW: 324, tickLen: 38, padL: 2, padR: 4, font: 46 }));
safe(() => colorbar('cbB', { leftW: 313, rightW: 259, tickLen: 36, padL: 2, padR: 5, font: 44 }));
safe(() => dendrogram('dendA', dendroA, heatRowsA.length));
safe(() => dendrogram('dendB', dendroB, heatRowsB.length));
</script>
</body></html>
